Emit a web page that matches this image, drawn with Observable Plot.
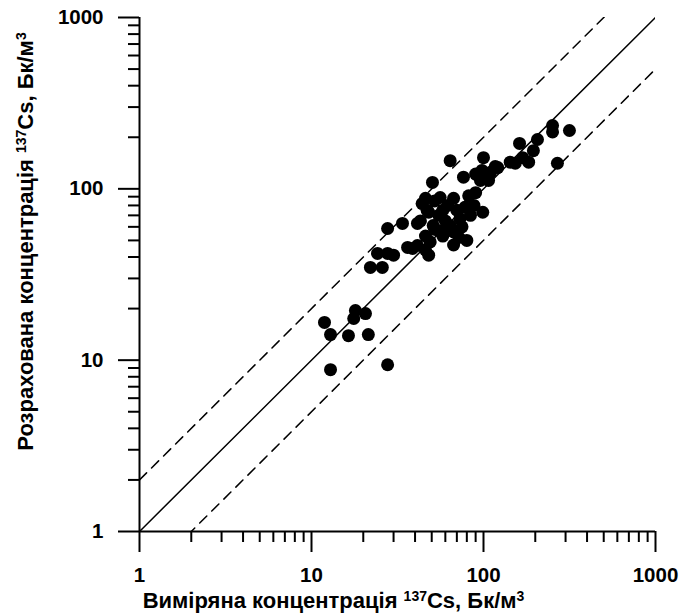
<!DOCTYPE html>
<html><head><meta charset="utf-8">
<script src="https://cdn.jsdelivr.net/npm/d3@7"></script>
<script src="https://cdn.jsdelivr.net/npm/@observablehq/plot@0.6"></script>
<style>
body{margin:0;background:#fff}
#chart svg{font-family:"Liberation Sans",Arial,sans-serif}
</style>
</head><body><div id="chart"></div>
<script>
// Measured (x) and calculated (y) 137Cs concentration, Bq/m3
const measured = [11.9,12.9,12.9,16.4,17.6,18.0,20.6,21.4,27.7,
  22,25.8,24.2,27.7,30,27.7,33.8,36.2,38.7,41.3,44,48,
  50.5,76.5,46,56,67,82,90,99,80,47,43,51,64,73,84,58,67,49,41.3,46,67,48,46,52,
  55,60,62,70,75,58,52,62,72,55,78,88,
  100,252,252,316,269,206,162,195,183,143,153,169,121,110,100,96,107,98,64,90,117];
const calculated = [16.6,14.1,8.8,13.9,17.5,19.5,18.7,14.1,9.4,
  34.8,34.8,42,42,41,58.7,62.8,45.5,44.9,62.8,82,73,
  109,117,88,89,88,91,95,73,50,75,65,61,61,67,70,53,56,49,46.7,44,47,41,53,58,
  70,65,80,75,60,75,85,58,52,57,78,80,
  152,234,215,219,141,194,184,167,143,143,141,152,133,125,117,112,112,128,146,122,135];
const majorTicks = [1,10,100,1000];
const minorTicks = [2,3,4,5,6,7,8,9,20,30,40,50,60,70,80,90,200,300,400,500,600,700,800,900];
const lineRange = [1,1000];
const ratios = [1,2,0.5];   // y = ratio * x
const xTitleParts = [["Виміряна концентрація ",false],["137",true],["Cs, Бк/м",false],["3",true]];
const yTitleParts = [["Розрахована концентрація ",false],["137",true],["Cs, Бк/м",false],["3",true]];

const points = measured.map((x,i)=>({x, y: calculated[i]}));
const mkLine = r => lineRange.map(x=>({x, y: x*r}));
const solid = ratios.filter(r=>r===1).map(mkLine);
const dashed = ratios.filter(r=>r!==1).map(mkLine);
const xTitle = xTitleParts.map(p=>p[0]).join("");
const yTitle = yTitleParts.map(p=>p[0]).join("");

const svg = Plot.plot({
  width: 680, height: 613,
  marginLeft: 139, marginRight: 25, marginTop: 17, marginBottom: 82,
  style: {fontSize: "20.5px", fontWeight: "bold", color: "black", background: "white"},
  x: {type: "log", domain: [1,1000]},
  y: {type: "log", domain: [1,1000]},
  marks: [
    ...solid.map(d=>Plot.line(d,{x:"x",y:"y",stroke:"black",strokeWidth:1.5,clip:true})),
    ...dashed.map(d=>Plot.line(d,{x:"x",y:"y",stroke:"black",strokeWidth:1.5,strokeDasharray:"10,7",clip:true})),
    Plot.ruleX([1],{stroke:"black",strokeWidth:2}),
    Plot.ruleY([1],{stroke:"black",strokeWidth:2}),
    Plot.axisX({ticks: majorTicks, tickSize: 21, tickPadding: 15, tickFormat: d=>String(d), strokeWidth: 2, label: null}),
    Plot.axisX({ticks: minorTicks, tickSize: 11, tickFormat: ()=>"", strokeWidth: 2, label: null}),
    Plot.axisY({ticks: majorTicks, tickSize: 21, tickPadding: 15, tickFormat: d=>String(d), strokeWidth: 2, label: null}),
    Plot.axisY({ticks: minorTicks, tickSize: 11, tickFormat: ()=>"", strokeWidth: 2, label: null}),
    Plot.dot(points,{x:"x",y:"y",r:6.5,fill:"black",stroke:"none"}),
    Plot.text([xTitle],{text:d=>d,frameAnchor:"bottom",dx:-64,dy:69,fontSize:22,fontWeight:"bold",fill:"black",textAnchor:"middle",lineAnchor:"middle"}),
    Plot.text([yTitle],{text:d=>d,frameAnchor:"left",dx:-114,dy:-33,rotate:-90,fontSize:22,fontWeight:"bold",fill:"black",textAnchor:"middle",lineAnchor:"middle"})
  ]
});

function richText(svg, full, parts){
  const ns = "http://www.w3.org/2000/svg";
  for (const t of svg.querySelectorAll("text")) {
    if (t.textContent !== full) continue;
    t.textContent = "";
    let up = false;
    for (const [s, sup] of parts) {
      const ts = document.createElementNS(ns, "tspan");
      ts.textContent = s;
      if (sup) { ts.setAttribute("font-size","14px"); if(!up){ts.setAttribute("dy","-7");up=true;} }
      else if (up) { ts.setAttribute("dy","7"); up=false; }
      t.appendChild(ts);
    }
  }
}
richText(svg, xTitle, xTitleParts);
richText(svg, yTitle, yTitleParts);
document.getElementById("chart").appendChild(svg);
</script>
</body></html>
